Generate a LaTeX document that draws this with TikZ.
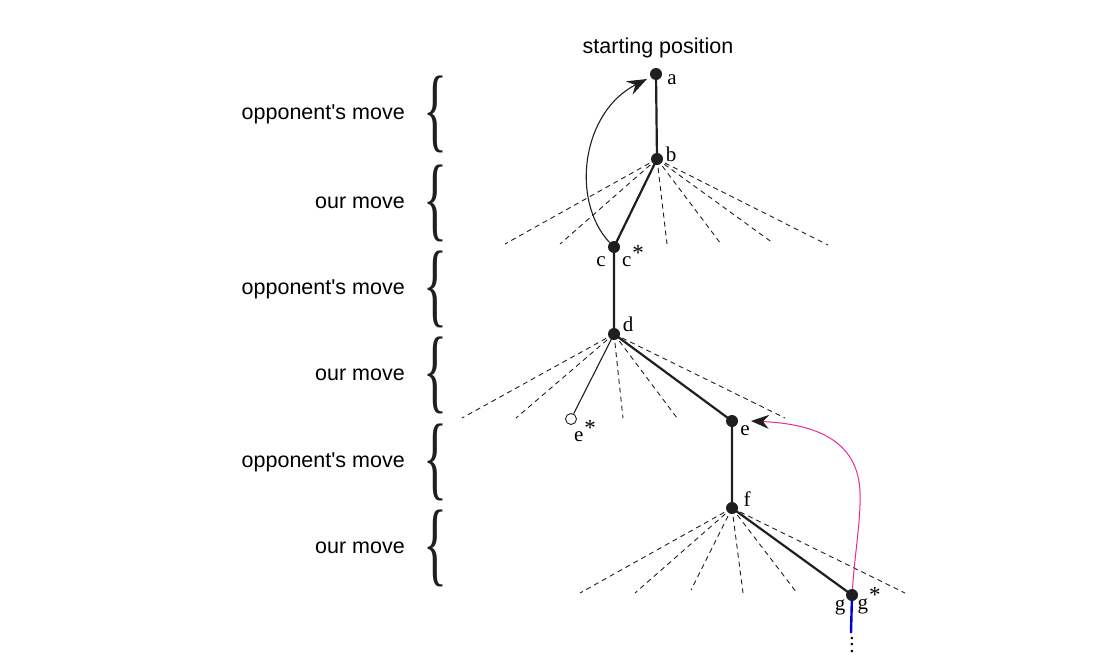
\documentclass[tikz,border=0pt]{standalone}
\usepackage{graphicx}
\usepackage{fontspec}
\setmainfont{Liberation Serif}
\newfontfamily\labfont{Liberation Sans}
\usetikzlibrary{arrows.meta}
\pgfdeclarelayer{bg}
\pgfsetlayers{bg,main}
\newcommand{\starred}[1]{#1\kern1pt\raisebox{0.32em}{\fontsize{23}{23}\selectfont *}}
\tikzset{
  dotnode/.style={circle,fill=black!88,inner sep=0pt,minimum size=12pt},
  hollow/.style={circle,draw=black!88,line width=0.9pt,fill=white,inner sep=0pt,minimum size=11pt},
  treeline/.style={line width=2.2pt,draw=black!88},
  thinline/.style={line width=1.1pt,draw=black!88},
  altline/.style={line width=0.9pt,draw=black!88,dash pattern=on 5pt off 4pt},
  letter/.style={font=\fontsize{21}{24}\selectfont,inner sep=0pt},
  sidetext/.style={font=\labfont\fontsize{21.5}{25}\selectfont,anchor=east,inner sep=0pt},
  bracenode/.style={inner sep=0pt,text=black!88},
  backarrow/.style={line width=1.1pt,draw=black!88,-{Stealth[length=20pt,width=15pt,inset=7pt]}},
  pinkarrow/.style={line width=1pt,draw=magenta!80!pink,-{Stealth[length=18pt,width=14pt,inset=6pt,color=black!88,fill=black!88]}},
}
\begin{document}
\begin{tikzpicture}[x=1pt,y=-1pt]
\useasboundingbox (0,0) rectangle (1120,672);
% side labels
\foreach \yy/\tt [count=\i] in {114/opponent's move,203/our move,289/opponent's move,375/our move,462/opponent's move,548/our move}{
  \node[sidetext] (side\i) at (405,\yy) {\tt};
  \node[bracenode] (brace\i) at (435,\yy) {\resizebox*{24pt}{77pt}{\fontsize{100}{100}\selectfont\{}};
}
\node[font=\labfont\fontsize{21.5}{25}\selectfont,inner sep=0pt] (start) at (658,48) {starting position};
% nodes
\node[dotnode] (a) at (656,74) {};
\node[dotnode] (b) at (657,159) {};
\node[dotnode] (c) at (614,247) {};
\node[dotnode] (d) at (614,334) {};
\node[hollow] (es) at (571,419) {};
\node[dotnode] (e) at (732,421) {};
\node[dotnode] (f) at (732,508) {};
\node[dotnode] (g) at (852,595) {};
% labels
\node[letter] (la) at (672,80) {a};
\node[letter] (lb) at (671,154) {b};
\node[letter] (lc) at (601,262) {c};
\node[letter] (lcs) at (633,256) {\starred{c}};
\node[letter] (ld) at (628,324) {d};
\node[letter] (les) at (585,431) {\starred{e}};
\node[letter] (le) at (745,431) {e};
\node[letter] (lf) at (747,499) {f};
\node[letter] (lg) at (840,607) {g};
\node[letter] (lgs) at (869,601) {\starred{g}};
\begin{pgfonlayer}{bg}
% dashed alternatives
\foreach \xx/\yy [count=\i] in {505/244,560/244,667/244,721/244,773/243,828/245}{
  \coordinate (bb\i) at (\xx,\yy);
  \draw[altline] (b.center) -- (bb\i);
}
\foreach \xx/\yy [count=\i] in {462/418,516/418,623/418,677/418,785/418}{
  \coordinate (dd\i) at (\xx,\yy);
  \draw[altline] (d.center) -- (dd\i);
}
\foreach \xx/\yy [count=\i] in {580/593,635/593,691/590,743/593,797/593,905/593}{
  \coordinate (ff\i) at (\xx,\yy);
  \draw[altline] (f.center) -- (ff\i);
}
% main line
\draw[treeline] (a.center) -- (b.center) -- (c.center) -- (d.center) -- (e.center) -- (f.center) -- (g.center);
\draw[thinline] (d.center) -- (es);
% blue continuation
\coordinate (gend) at (851,633);
\draw[line width=2.4pt,draw=blue!85!black] (g.center) -- (gend);
% pink arrow g -> e
\coordinate (gmid) at (860,492);
\coordinate (etip) at (751,421);
\draw[pinkarrow] (g.center) .. controls (855,550) and (861,520) .. (gmid) .. controls (858,440) and (815,424) .. (etip);
\end{pgfonlayer}
\node[inner sep=0pt,font=\fontsize{21}{24}\selectfont,anchor=north] (vdots) at (852,637) {\vbox{\baselineskip6.5pt\hbox{.}\hbox{.}\hbox{.}}};
% back arrow c -> a
\coordinate (atip) at (647,79);
\draw[backarrow] (c.north west) .. controls (570,200) and (582,112) .. (atip);
\end{tikzpicture}
\end{document}
